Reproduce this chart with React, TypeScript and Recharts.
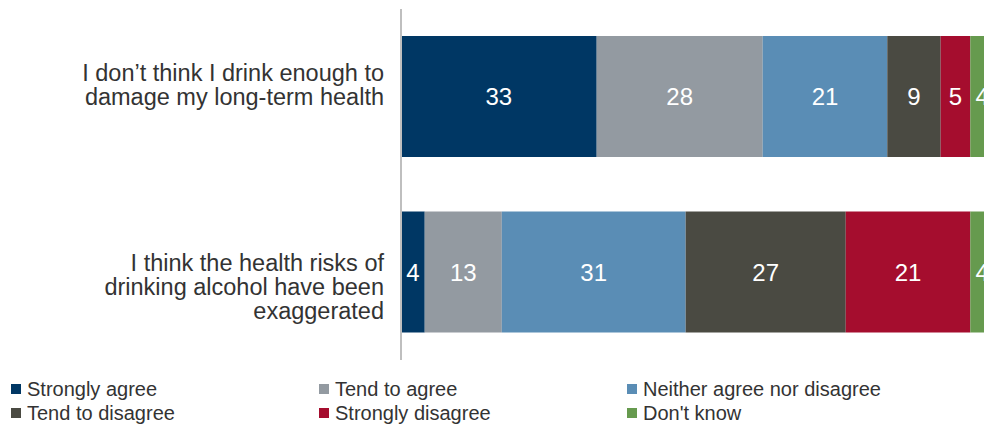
import React from 'react';
import { BarChart, Bar, XAxis, YAxis, LabelList } from 'recharts';

const categories = [
  ['I don\u2019t think I drink enough to', 'damage my long-term health'],
  ['I think the health risks of', 'drinking alcohol have been', 'exaggerated'],
];

const seriesNames = [
  'Strongly agree',
  'Tend to agree',
  'Neither agree nor disagree',
  'Tend to disagree',
  'Strongly disagree',
  "Don't know",
];

const stronglyAgree = [33, 4];
const tendToAgree = [28, 13];
const neither = [21, 31];
const tendToDisagree = [9, 27];
const stronglyDisagree = [5, 21];
const dontKnow = [4, 4];

const colors = ['#003764', '#939aa1', '#5a8db5', '#4a4a42', '#a50d2e', '#669a4e'];
const keys = ['sa', 'ta', 'ne', 'td', 'sd', 'dk'];
const values = [stronglyAgree, tendToAgree, neither, tendToDisagree, stronglyDisagree, dontKnow];

const data = categories.map((lines, i) => {
  const row: any = { name: i, lines };
  keys.forEach((k, s) => {
    row[k] = values[s][i];
  });
  return row;
});

const FONT = '"Liberation Sans", Arial, sans-serif';

// first-line baseline offset from the band centre, per category
const tickShift = [-16, -1];

const CategoryTick = (props: any) => {
  const { x, y, payload } = props;
  const lines: string[] = categories[payload.value] || [];
  const base = y + tickShift[payload.value];
  return (
    <text textAnchor="end" fill="#333333" fontSize={23.5} fontFamily={FONT}>
      {lines.map((l, i) => (
        <tspan key={i} x={x} y={base + i * 24}>
          {l}
        </tspan>
      ))}
    </text>
  );
};

const legendCols = [11, 319, 627];
const legendRows = [384, 408];

export default function App() {
  return (
    <div
      style={{
        position: 'fixed',
        left: 0,
        top: 0,
        width: 984,
        height: 425,
        overflow: 'hidden',
        background: '#fff',
        fontFamily: FONT,
      }}
    >
      <BarChart
        width={1000}
        height={370}
        data={data}
        layout="vertical"
        margin={{ top: 9, right: 6, bottom: 10, left: 0 }}
      >
        <XAxis type="number" domain={[0, 100]} hide />
        <YAxis
          type="category"
          dataKey="name"
          width={401}
          tickLine={false}
          tickSize={0}
          tickMargin={17}
          axisLine={{ stroke: '#bfbfbf', strokeWidth: 2 }}
          tick={<CategoryTick />}
        />
        {keys.map((k, s) => (
          <Bar key={k} dataKey={k} stackId="a" fill={colors[s]} barSize={121} isAnimationActive={false}>
            <LabelList dataKey={k} position="center" fill="#ffffff" fontSize={24} fontFamily={FONT} />
          </Bar>
        ))}
      </BarChart>
      {seriesNames.map((n, s) => {
        const col = legendCols[s % 3];
        const row = legendRows[Math.floor(s / 3)];
        return (
          <div key={n} style={{ position: 'absolute', left: col, top: row - 5, height: 20, display: 'flex', alignItems: 'center' }}>
            <span style={{ display: 'inline-block', width: 10, height: 10, background: colors[s], marginRight: 6 }} />
            <span style={{ fontSize: 20, color: '#333333', lineHeight: '20px' }}>{n}</span>
          </div>
        );
      })}
    </div>
  );
}
